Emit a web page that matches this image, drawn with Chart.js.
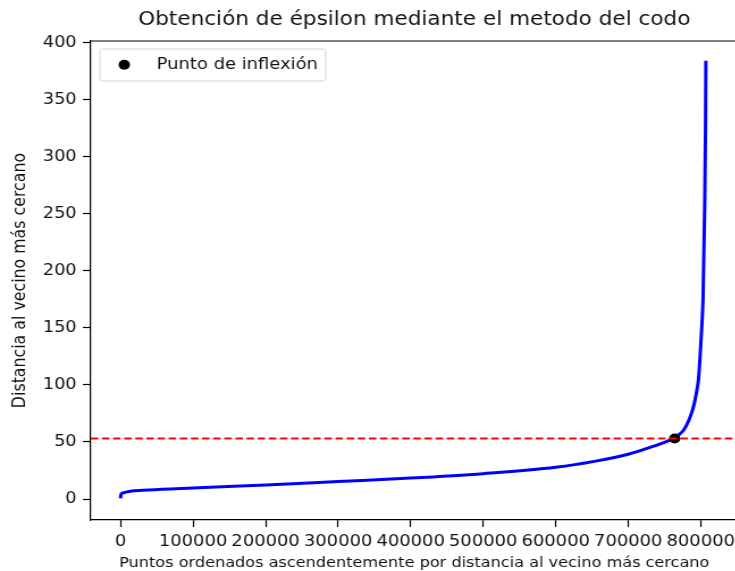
<!DOCTYPE html>
<html>
<head>
<meta charset="utf-8">
<script src="https://cdn.jsdelivr.net/npm/chart.js@4/dist/chart.umd.min.js"></script>
<style>
  html, body { margin: 0; padding: 0; background: #fff; overflow: hidden; width: 735px; height: 571px; }
  /* the canvas is laid out narrower and widened horizontally */
  #wrap { width: 655px; height: 571px; transform: scaleX(1.135); transform-origin: 0 0; }
  canvas { display: block; }
</style>
</head>
<body>
<div id="wrap"><canvas id="chart" width="655" height="571"></canvas></div>
<script>
const TITLE = 'Obtención de épsilon mediante el metodo del codo';
const X_LABEL = 'Puntos ordenados ascendentemente por distancia al vecino más cercano';
const Y_LABEL = 'Distancia al vecino más cercano';
const POINT_LABEL = 'Punto de inflexión';

// sorted nearest-neighbour distances: position in the ordering -> distance
const rank = [0, 400, 1200, 3750, 11800, 38600, 100000, 200000, 300000, 400000,
              500000, 600000, 655000, 700000, 730000, 762000, 770000, 776000, 781000,
              786000, 790000, 794000, 797000, 799500, 801500, 803200, 805500, 806600, 807000];
const distance = [0.6, 3.3, 4.6, 5.4, 6.6, 7.8, 9.6, 12.3, 15.3, 18.3,
                  22.2, 27.8, 33.2, 39.2, 45.2, 53.0, 56.5, 60, 65.5,
                  73, 81, 93, 106, 130, 152, 177, 260, 330, 384];

// elbow of the curve and the chosen epsilon
const elbowRank = 764000;
const epsilon = 53;

const xTicks = [0, 100000, 200000, 300000, 400000, 500000, 600000, 700000, 800000];
const yTicks = [0, 50, 100, 150, 200, 250, 300, 350, 400];
const xLimits = [-41000, 851000];
const yLimits = [-18.4, 401.3];

const FONT = 'DejaVu Sans';
const TEXT = '#111';

// top spine and legend box drawn over the plot
const framePlugin = {
  id: 'frame',
  afterDraw(chart) {
    const { ctx, chartArea: a } = chart;
    ctx.save();
    ctx.strokeStyle = '#000';
    ctx.lineWidth = 1.2;
    ctx.beginPath();
    ctx.moveTo(a.left, a.top);
    ctx.lineTo(a.right, a.top);
    ctx.stroke();

    // legend
    const bx = a.left + 8, by = a.top + 8, bw = 199, bh = 32, r = 3;
    ctx.beginPath();
    ctx.moveTo(bx + r, by);
    ctx.arcTo(bx + bw, by, bx + bw, by + bh, r);
    ctx.arcTo(bx + bw, by + bh, bx, by + bh, r);
    ctx.arcTo(bx, by + bh, bx, by, r);
    ctx.arcTo(bx, by, bx + bw, by, r);
    ctx.closePath();
    ctx.fillStyle = 'rgba(255,255,255,0.8)';
    ctx.fill();
    ctx.strokeStyle = '#d6d6d6';
    ctx.lineWidth = 1;
    ctx.stroke();

    ctx.fillStyle = '#000';
    ctx.beginPath();
    ctx.arc(a.left + 29.5, a.top + 23.8, 5, 0, Math.PI * 2);
    ctx.fill();

    ctx.fillStyle = TEXT;
    ctx.font = '15.8px "' + FONT + '"';
    ctx.textBaseline = 'middle';
    ctx.textAlign = 'left';
    ctx.fillText(POINT_LABEL, a.left + 58, a.top + 23.8);
    ctx.restore();
  }
};

new Chart(document.getElementById('chart'), {
  type: 'scatter',
  data: {
    datasets: [
      {
        label: 'epsilon',
        data: xLimits.map(x => ({ x, y: epsilon })),
        showLine: true,
        borderColor: '#ff0000',
        borderWidth: 2.2,
        borderDash: [6.6, 3.2],
        pointRadius: 0,
        order: 0
      },
      {
        label: POINT_LABEL,
        data: [{ x: elbowRank, y: epsilon }],
        backgroundColor: '#000',
        borderColor: '#000',
        borderWidth: 0,
        pointRadius: 5,
        order: 1
      },
      {
        label: 'distancia',
        data: rank.map((x, i) => ({ x, y: distance[i] })),
        showLine: true,
        borderColor: '#0000ff',
        borderWidth: 3,
        pointRadius: 0,
        cubicInterpolationMode: 'monotone',
        order: 2
      }
    ]
  },
  options: {
    responsive: false,
    animation: false,
    devicePixelRatio: 1,
    events: [],
    layout: { padding: 0 },
    plugins: {
      legend: { display: false },
      tooltip: { enabled: false },
      title: {
        display: true,
        text: TITLE,
        fullSize: false,
        color: TEXT,
        font: { family: FONT, size: 19, weight: 'normal', lineHeight: 1.2 },
        padding: { top: 8.7, bottom: 9.5 }
      }
    },
    scales: {
      x: {
        type: 'linear',
        position: 'bottom',
        min: xLimits[0],
        max: xLimits[1],
        afterBuildTicks: s => { s.ticks = xTicks.map(v => ({ value: v })); },
        afterFit: s => { s.height = 51; s.paddingLeft = 0; s.paddingRight = 0; },
        grid: { drawOnChartArea: false, drawTicks: true, tickLength: 7, tickColor: '#000', tickWidth: 1.2 },
        border: { display: true, color: '#000', width: 1.2 },
        ticks: {
          autoSkip: false, maxRotation: 0, padding: 5.3, color: TEXT,
          font: { family: FONT, size: 15.8 },
          callback: v => String(v)
        },
        title: {
          display: true, text: X_LABEL, color: TEXT,
          font: { family: FONT, size: 14.2, lineHeight: 1 },
          padding: { top: 0, bottom: 0.5 }
        }
      },
      y: {
        type: 'linear',
        position: 'left',
        min: yLimits[0],
        max: yLimits[1],
        afterBuildTicks: s => { s.ticks = yTicks.map(v => ({ value: v })); },
        afterFit: s => { s.width = 80; s.paddingTop = 0; s.paddingBottom = 0; },
        grid: { drawOnChartArea: false, drawTicks: true, tickLength: 7, tickColor: '#000', tickWidth: 1.2 },
        border: { display: true, color: '#000', width: 1.2 },
        ticks: {
          padding: 5.5, color: TEXT,
          font: { family: FONT, size: 15.6 },
          callback: v => String(v)
        },
        title: {
          display: true, text: Y_LABEL, color: TEXT,
          font: { family: FONT, size: 15.8, lineHeight: 1 },
          padding: { top: 10, bottom: 0 }
        }
      }
    }
  },
  plugins: [framePlugin]
});
</script>
</body>
</html>
